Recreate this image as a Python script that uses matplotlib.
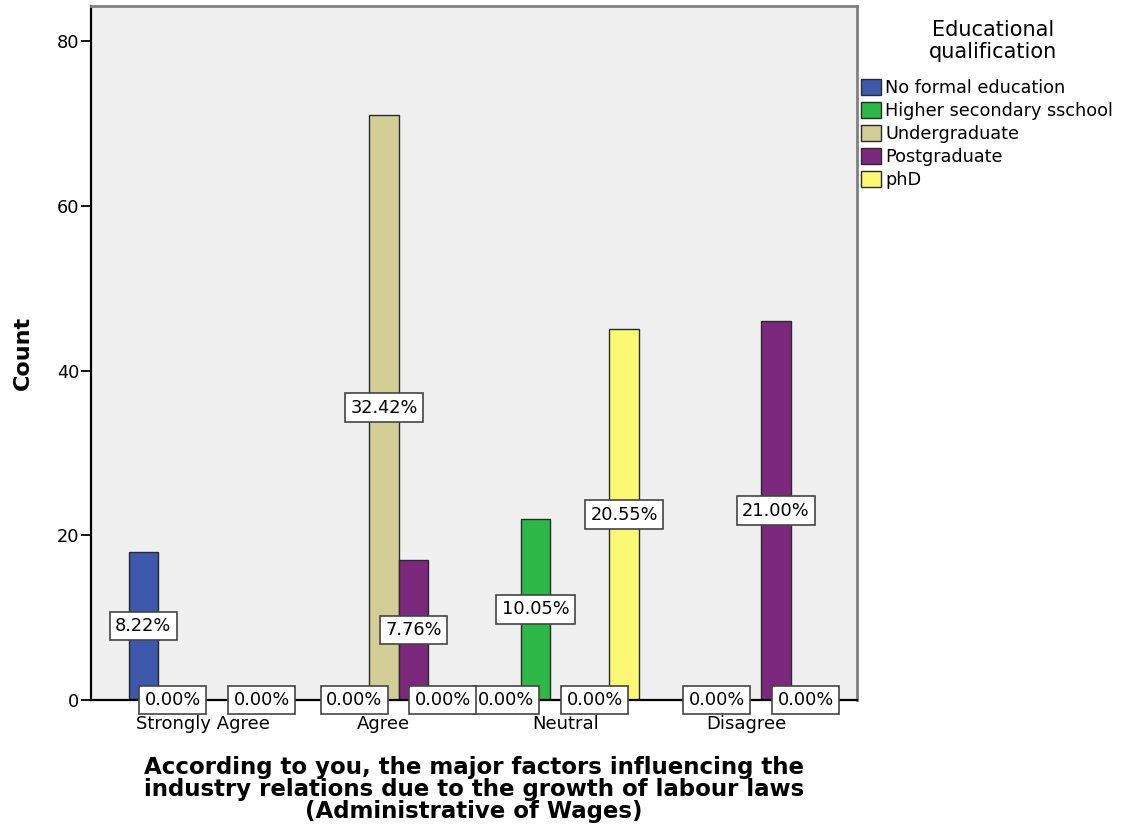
import numpy as np
import matplotlib.pyplot as plt
from matplotlib.patches import Patch

# survey counts per response, one list per education level (None = no bar drawn)
categories = ['Strongly Agree', 'Agree', 'Neutral', 'Disagree']
series_names = ['No formal education', 'Higher secondary sschool', 'Undergraduate',
                'Postgraduate', 'phD']
no_formal = [18, None, 0, None]
higher_sec = [0, 0, 22, 0]
undergrad = [None, 71, None, None]
postgrad = [None, 17, 0, 46]
phd = [0, 0, 45, 0]
total = 219

colors = ['#3E58AC', '#2EB848', '#D3CE97', '#7B287D', '#FBF873']
yticks = [0, 20, 40, 60, 80]

fig = plt.figure(figsize=(11.3, 8.31), dpi=100)
ax = fig.add_axes([0.0805, 0.1576, 0.678, 0.8352], facecolor='#F0F0F0')

x = np.arange(len(categories))
width = 0.163
all_series = [no_formal, higher_sec, undergrad, postgrad, phd]

for i, (vals, col) in enumerate(zip(all_series, colors)):
    offset = (i - 2) * width
    for xi, v in zip(x, vals):
        if v is None:
            continue
        if v > 0:
            ax.bar(xi + offset, v, width, color=col, edgecolor='#2a2a2a', linewidth=1.0, zorder=2)
        ax.text(xi + offset, v / 2, '%.2f%%' % (100.0 * v / total), ha='center', va='center',
                fontsize=12.8, zorder=5,
                bbox=dict(boxstyle='square,pad=0.3', fc='white', ec='#444444', lw=1.2))

ax.set_xlim(-0.615, 3.61)
ax.set_ylim(0, 84.25)
ax.set_xticks(x)
ax.set_xticklabels(categories, fontsize=13)
ax.tick_params(axis='x', length=0, pad=11)
ax.set_yticks(yticks)
ax.tick_params(axis='y', length=7.5, width=1.3, pad=1, labelsize=12.8)

for side in ['left', 'bottom']:
    ax.spines[side].set_color('black')
    ax.spines[side].set_linewidth(1.6)
for side in ['top', 'right']:
    ax.spines[side].set_color('#808080')
    ax.spines[side].set_linewidth(2)

ax.set_ylabel('Count', fontsize=16, fontweight='bold', labelpad=17)
ax.set_xlabel('According to you, the major factors influencing the\n'
              'industry relations due to the growth of labour laws\n'
              '(Administrative of Wages)',
              fontsize=16.5, fontweight='bold', linespacing=0.97, labelpad=16)

# legend title placed on its own, entries below it
fig.text(0.879, 0.951, 'Educational\nqualification', ha='center', va='center',
         fontsize=15, linespacing=1.1)
handles = [Patch(facecolor=c, edgecolor='#2a2a2a', lw=1.0) for c in colors]
leg = fig.legend(handles, series_names, loc='upper left', bbox_to_anchor=(0.759, 0.909),
                 frameon=False, fontsize=12.7, handlelength=1.15, handleheight=1.0,
                 handletextpad=0.2, labelspacing=0.28, borderaxespad=0, borderpad=0.2)

fig.savefig('out.png', dpi=100)
